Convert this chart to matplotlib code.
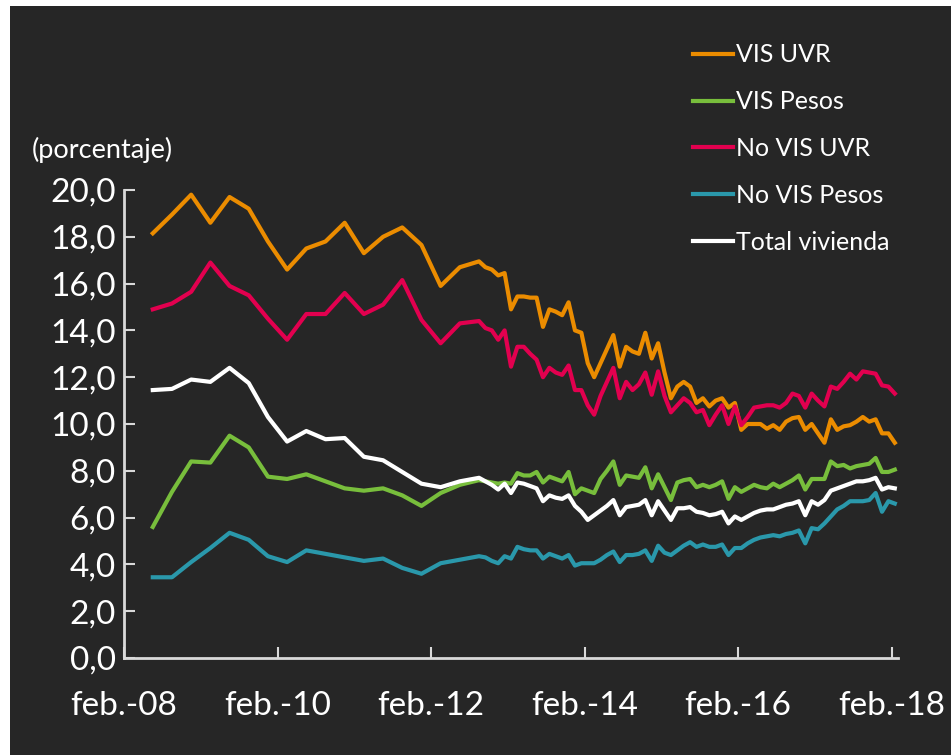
import numpy as np
import matplotlib
matplotlib.use("Agg")
import matplotlib.pyplot as plt
from matplotlib.patches import Rectangle

# months since feb-08: quarterly points first, then monthly
months_q = np.arange(4.5, 56, 3)
months_m = np.arange(56.5, 121, 1)
months = np.concatenate([months_q, months_m])

vis_uvr_q = [18.15, 18.95, 19.8, 18.6, 19.7, 19.2, 17.8, 16.6, 17.5, 17.8, 18.6, 17.3,
             18.0, 18.4, 17.65, 15.9, 16.7, 16.95]
vis_uvr_m = [16.7, 16.6, 16.35, 16.45, 14.9, 15.45, 15.45, 15.4, 15.4, 14.15, 14.9, 14.8,
             14.65, 15.2, 14.0, 13.9, 12.6, 12.0, 12.6, 13.2, 13.8, 12.45, 13.3, 13.1,
             13.0, 13.9, 12.8, 13.45, 12.2, 11.1, 11.6, 11.8, 11.6, 10.9, 11.1, 10.75,
             11.0, 11.1, 10.7, 10.9, 9.75, 10.0, 10.0, 10.0, 9.8, 9.95, 9.75, 10.1,
             10.25, 10.3, 9.75, 10.0, 9.6, 9.2, 10.2, 9.75, 9.9, 9.95, 10.1, 10.3,
             10.1, 10.2, 9.6, 9.6, 9.2]

vis_pesos_q = [5.6, 7.1, 8.4, 8.35, 9.5, 9.0, 7.75, 7.65, 7.85, 7.55, 7.25, 7.15,
               7.25, 6.95, 6.5, 7.05, 7.4, 7.6]
vis_pesos_m = [7.55, 7.5, 7.45, 7.5, 7.45, 7.9, 7.8, 7.8, 7.95, 7.5, 7.75, 7.65,
               7.55, 7.95, 7.0, 7.25, 7.15, 7.05, 7.65, 8.0, 8.4, 7.4, 7.8, 7.75,
               7.7, 8.15, 7.25, 7.85, 7.3, 6.75, 7.5, 7.6, 7.65, 7.3, 7.4, 7.3,
               7.4, 7.55, 6.8, 7.3, 7.1, 7.25, 7.4, 7.3, 7.25, 7.45, 7.3, 7.45,
               7.6, 7.8, 7.2, 7.65, 7.65, 7.65, 8.4, 8.2, 8.25, 8.1, 8.2, 8.25,
               8.3, 8.55, 7.95, 7.95, 8.05]

novis_uvr_q = [14.9, 15.15, 15.65, 16.9, 15.9, 15.5, 14.5, 13.6, 14.7, 14.7, 15.6, 14.7,
               15.1, 16.15, 14.45, 13.45, 14.3, 14.4]
novis_uvr_m = [14.1, 14.0, 13.6, 14.0, 12.45, 13.3, 13.3, 13.0, 12.75, 12.0, 12.4, 12.2,
               12.1, 12.5, 11.45, 11.45, 10.8, 10.4, 11.2, 11.8, 12.4, 11.1, 11.8, 11.45,
               11.7, 12.2, 11.25, 12.25, 11.2, 10.5, 10.8, 11.1, 10.9, 10.5, 10.6, 9.95,
               10.4, 10.8, 10.0, 10.75, 9.95, 10.3, 10.7, 10.75, 10.8, 10.8, 10.7, 10.9,
               11.3, 11.2, 10.7, 11.3, 11.0, 10.75, 11.6, 11.5, 11.8, 12.15, 11.9, 12.25,
               12.2, 12.15, 11.65, 11.6, 11.3]

novis_pesos_q = [3.45, 3.45, 4.1, 4.7, 5.35, 5.05, 4.35, 4.1, 4.6, 4.45, 4.3, 4.15,
                 4.25, 3.85, 3.6, 4.05, 4.2, 4.35]
novis_pesos_m = [4.3, 4.15, 4.05, 4.35, 4.25, 4.75, 4.65, 4.6, 4.6, 4.25, 4.45, 4.35,
                 4.25, 4.4, 3.95, 4.05, 4.05, 4.05, 4.2, 4.4, 4.55, 4.1, 4.4, 4.4,
                 4.45, 4.6, 4.15, 4.8, 4.5, 4.4, 4.6, 4.8, 4.95, 4.75, 4.85, 4.75,
                 4.75, 4.85, 4.4, 4.7, 4.7, 4.9, 5.05, 5.15, 5.2, 5.25, 5.2, 5.3,
                 5.35, 5.45, 4.9, 5.55, 5.5, 5.75, 6.05, 6.35, 6.5, 6.7, 6.7, 6.7,
                 6.75, 7.05, 6.25, 6.7, 6.6]

total_q = [11.45, 11.5, 11.9, 11.8, 12.4, 11.75, 10.3, 9.25, 9.7, 9.35, 9.4, 8.6,
           8.45, 7.95, 7.45, 7.3, 7.55, 7.7]
total_m = [7.55, 7.4, 7.2, 7.45, 7.05, 7.5, 7.45, 7.35, 7.25, 6.7, 6.95, 6.85,
           6.8, 6.95, 6.5, 6.25, 5.9, 6.1, 6.3, 6.5, 6.75, 6.1, 6.45, 6.5,
           6.55, 6.75, 6.1, 6.7, 6.3, 5.9, 6.4, 6.4, 6.45, 6.25, 6.2, 6.1,
           6.15, 6.25, 5.75, 6.05, 5.9, 6.05, 6.2, 6.3, 6.35, 6.35, 6.45, 6.55,
           6.6, 6.7, 6.1, 6.7, 6.55, 6.75, 7.15, 7.25, 7.35, 7.45, 7.55, 7.55,
           7.6, 7.7, 7.2, 7.3, 7.25]

series = [
    ("VIS UVR", vis_uvr_q + vis_uvr_m, "#EB8C00"),
    ("VIS Pesos", vis_pesos_q + vis_pesos_m, "#78BE3C"),
    ("No VIS UVR", novis_uvr_q + novis_uvr_m, "#E2004F"),
    ("No VIS Pesos", novis_pesos_q + novis_pesos_m, "#2A98AB"),
    ("Total vivienda", total_q + total_m, "#FFFFFF"),
]

x_ticks = [0, 24, 48, 72, 96, 120]
x_labels = ["feb.-08", "feb.-10", "feb.-12", "feb.-14", "feb.-16", "feb.-18"]
y_ticks = [0, 2, 4, 6, 8, 10, 12, 14, 16, 18, 20]
y_labels = ["0,0", "2,0", "4,0", "6,0", "8,0", "10,0", "12,0", "14,0", "16,0", "18,0", "20,0"]

plt.rcParams['font.family'] = ['Lato', 'DejaVu Sans']
bg = "#262626"
axis_col = "#d9d9d9"

W, H = 951, 755
fig = plt.figure(figsize=(W / 100, H / 100), dpi=100)
fig.patch.set_facecolor("white")
fig.patches.append(Rectangle((10 / W, 0), 1 - 10 / W, 1 - 6 / H, transform=fig.transFigure,
                             facecolor=bg, edgecolor="none", zorder=-10))

ax = fig.add_axes([124 / W, (H - 658) / H, (898 - 124) / W, (658 - 190) / H])
ax.set_facecolor(bg)
ax.set_zorder(1)

for name, vals, col in series:
    ax.plot(months, vals, color=col, linewidth=3, label=name)

ax.set_xlim(0, 121)
ax.set_ylim(0, 20)
ax.set_xticks(x_ticks)
ax.set_xticklabels(x_labels)
ax.set_yticks(y_ticks)
ax.set_yticklabels(y_labels)

for s in ["top", "right"]:
    ax.spines[s].set_visible(False)
for s in ["left", "bottom"]:
    ax.spines[s].set_color(axis_col)
    ax.spines[s].set_linewidth(2)

ax.tick_params(axis="both", direction="in", length=8, width=1.5, color=axis_col,
               labelcolor="white", labelsize=24)
ax.tick_params(axis="x", pad=24)
ax.tick_params(axis="y", pad=6)

fig.text(32 / W, 1 - 150 / H, "(porcentaje)", color="white", fontsize=19.5,
         ha="left", va="center")

leg = fig.legend(loc="upper left", bbox_to_anchor=(680 / W, 1 - 31 / H), frameon=False,
                 fontsize=18, handlelength=1.6, handletextpad=0.15, labelspacing=0.95,
                 borderpad=0)
leg.set_zorder(5)
for t in leg.get_texts():
    t.set_color("white")

fig.savefig("out.png", dpi=100, facecolor=fig.get_facecolor())
